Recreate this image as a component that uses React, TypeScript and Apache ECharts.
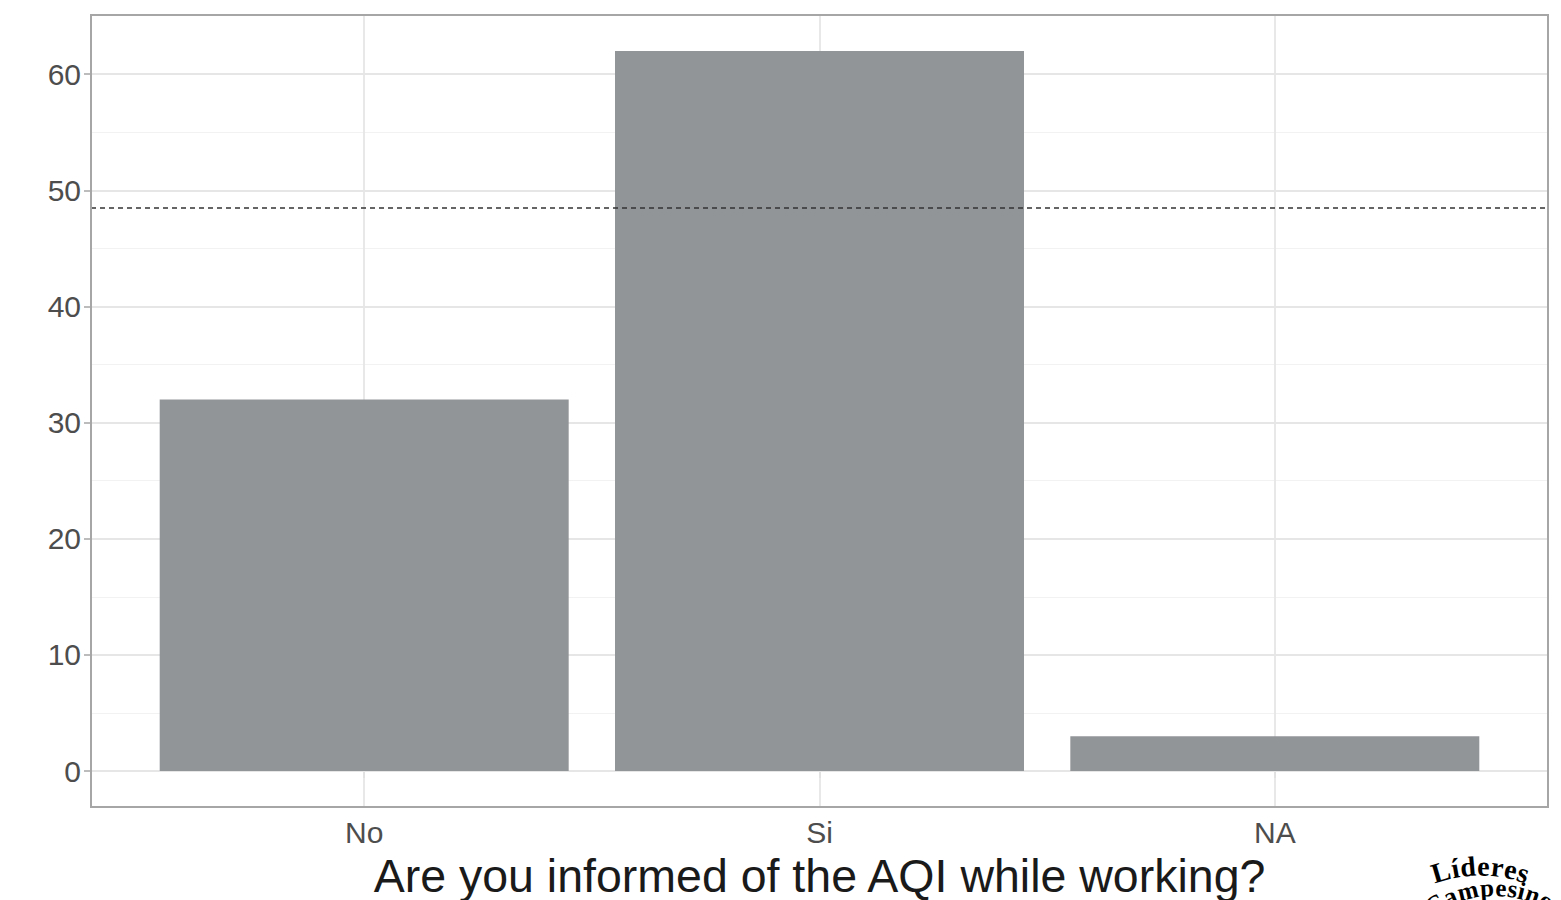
import React, { useEffect, useRef } from "react";
import * as echarts from "echarts";

const categories = ["No", "Si", "NA"];
const counts = [32, 62, 3];
const referenceValue = 48.5;
const yTicks = [0, 10, 20, 30, 40, 50, 60];
const yMinorTicks = [5, 15, 25, 35, 45, 55];
const xTitle = "Are you informed of the AQI while working?";
const logoTop = "Líderes";
const logoBottom = "Campesinos";

const serifWidths: Record<string, number> = {
  L: 0.667, "í": 0.278, d: 0.556, e: 0.444, r: 0.444, s: 0.389,
  C: 0.722, a: 0.5, m: 0.833, p: 0.556, i: 0.278, n: 0.556, o: 0.5,
};

function arcText(word: string, cx: number, cy: number, r: number, size: number) {
  const widths = word.split("").map((ch) => (serifWidths[ch] || 0.5) * size);
  const total = widths.reduce((a, b) => a + b, 0);
  let cum = 0;
  return word.split("").map((ch, i) => {
    const mid = cum + widths[i] / 2 - total / 2;
    cum += widths[i];
    const theta = mid / r;
    return {
      type: "text",
      x: cx + r * Math.sin(theta),
      y: cy - r * Math.cos(theta),
      rotation: -theta,
      z: 100,
      style: {
        text: ch,
        font: `bold ${size}px "Liberation Serif"`,
        fill: "#000",
        align: "center",
        verticalAlign: "bottom",
      },
    };
  });
}

export default function App() {
  const ref = useRef<HTMLDivElement>(null);
  useEffect(() => {
    if (!ref.current) return;
    const chart = echarts.init(ref.current, undefined, { renderer: "svg" });
    const barData = counts.map((v, i) => [i + 1, v]);
    const gridLines = [
      ...yMinorTicks.map((v) => ({ yAxis: v, lineStyle: { color: "#f2f2f2", width: 1.2, type: "solid" } })),
      ...yTicks.map((v) => ({ yAxis: v, lineStyle: { color: "#e6e6e6", width: 1.8, type: "solid" } })),
      ...categories.map((_, i) => ({ xAxis: i + 1, lineStyle: { color: "#e6e6e6", width: 1.8, type: "solid" } })),
    ];
    chart.setOption({
      animation: false,
      backgroundColor: "#ffffff",
      grid: {
        left: 91, top: 15, width: 1457, height: 792,
        outerBoundsMode: "none",
        containLabel: false,
        show: true, borderColor: "#a6a6a6", borderWidth: 2, backgroundColor: "transparent", z: 10,
      },
      xAxis: {
        type: "value",
        min: 0.4,
        max: 3.6,
        splitLine: { show: false },
        axisLine: { show: false },
        axisTick: { show: true, length: 7, customValues: [1, 2, 3], lineStyle: { color: "#a6a6a6", width: 1.5 } },
        axisLabel: {
          customValues: [1, 2, 3],
          formatter: (v: number) => categories[Math.round(v) - 1] ?? "",
          color: "#4d4d4d",
          fontSize: 30,
          fontFamily: "Liberation Sans",
          margin: 10,
        },
        name: xTitle,
        nameLocation: "middle",
        nameGap: 45,
        nameTextStyle: { color: "#1a1a1a", fontSize: 46.5, fontFamily: "Liberation Sans", verticalAlign: "top" },
      },
      yAxis: {
        type: "value",
        min: -3.1,
        max: 65.1,
        splitLine: { show: false },
        axisLine: { show: false },
        axisTick: { show: true, length: 7, customValues: yTicks, lineStyle: { color: "#a6a6a6", width: 1.5 } },
        axisLabel: {
          customValues: yTicks,
          color: "#4d4d4d",
          fontSize: 30,
          fontFamily: "Liberation Sans",
          margin: 10,
        },
      },
      series: [
        {
          type: "line",
          data: [],
          z: 1,
          silent: true,
          markLine: { silent: true, symbol: ["none", "none"], label: { show: false }, data: gridLines, z: 1 },
        },
        {
          type: "bar",
          data: barData,
          barWidth: 409,
          z: 3,
          itemStyle: { color: "#929598" },
        },
        {
          type: "line",
          data: [],
          z: 5,
          silent: true,
          markLine: {
            silent: true,
            symbol: ["none", "none"],
            label: { show: false },
            z: 5,
            data: [{ yAxis: referenceValue }],
            lineStyle: { color: "#333333", width: 1.6, type: [5, 4] },
          },
        },
      ],
      graphic: [
        ...arcText(logoTop, 1480, 1005, 125, 28),
        ...arcText(logoBottom, 1494, 1002, 102, 25),
      ],
    });
    return () => chart.dispose();
  }, []);
  return <div ref={ref} style={{ position: "fixed", left: 0, top: 0, width: 1561, height: 900 }} />;
}
